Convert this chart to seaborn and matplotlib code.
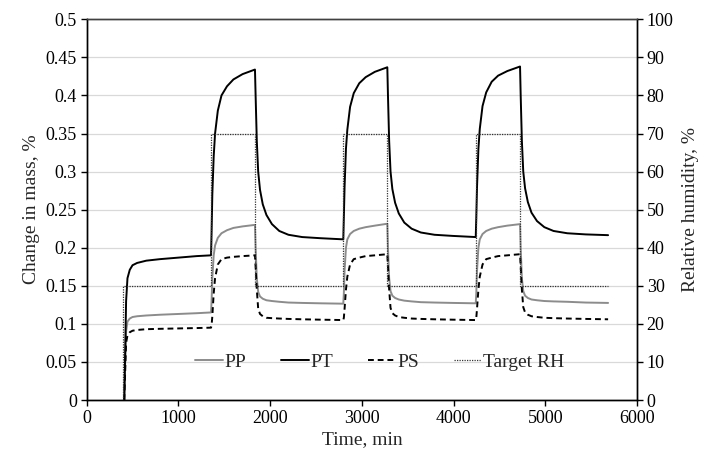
"""
Mass change of PP / PT / PS samples under stepped target RH (DVS cycles)
"""
import matplotlib
matplotlib.use("Agg")
import matplotlib.pyplot as plt
import seaborn as sns
import pandas as pd

# time points (min) shared by the three mass curves
time = [
    410, 418, 430, 445, 470, 500, 550, 650, 800, 1000, 1200, 1356,
    1362, 1370, 1385, 1400, 1430, 1470, 1530, 1600, 1700, 1835,
    1842, 1855, 1870, 1890, 1920, 1960, 2020, 2100, 2200, 2350, 2550, 2798,
    2804, 2812, 2827, 2842, 2872, 2912, 2972, 3042, 3142, 3278,
    3285, 3298, 3313, 3333, 3363, 3403, 3463, 3543, 3643, 3793, 3993, 4242,
    4248, 4256, 4271, 4286, 4316, 4356, 4416, 4486, 4586, 4725,
    4732, 4745, 4760, 4780, 4810, 4850, 4910, 4990, 5090, 5240, 5440, 5685,
]
pt = [
    0.0, 0.05, 0.13, 0.16, 0.171, 0.177, 0.180, 0.183, 0.185, 0.187, 0.189, 0.190,
    0.22, 0.27, 0.32, 0.35, 0.38, 0.40, 0.412, 0.421, 0.428, 0.434,
    0.40, 0.34, 0.30, 0.276, 0.257, 0.243, 0.231, 0.222, 0.217, 0.214, 0.2125, 0.211,
    0.24, 0.28, 0.33, 0.355, 0.385, 0.403, 0.416, 0.424, 0.431, 0.437,
    0.40, 0.34, 0.30, 0.277, 0.259, 0.245, 0.233, 0.225, 0.220, 0.217, 0.2155, 0.214,
    0.24, 0.28, 0.33, 0.356, 0.386, 0.404, 0.418, 0.426, 0.432, 0.438,
    0.40, 0.34, 0.30, 0.278, 0.260, 0.246, 0.235, 0.227, 0.222, 0.219, 0.2175, 0.2165,
]
pp = [
    0.0, 0.04, 0.09, 0.103, 0.107, 0.109, 0.110, 0.111, 0.112, 0.113, 0.114, 0.115,
    0.13, 0.16, 0.19, 0.203, 0.213, 0.219, 0.223, 0.226, 0.228, 0.230,
    0.20, 0.16, 0.142, 0.136, 0.133, 0.131, 0.130, 0.129, 0.128, 0.1275, 0.127, 0.1265,
    0.14, 0.17, 0.20, 0.211, 0.218, 0.222, 0.225, 0.227, 0.229, 0.2315,
    0.20, 0.16, 0.143, 0.137, 0.134, 0.132, 0.1305, 0.1295, 0.1285, 0.128, 0.1275, 0.127,
    0.14, 0.17, 0.20, 0.211, 0.218, 0.222, 0.225, 0.227, 0.229, 0.231,
    0.20, 0.16, 0.143, 0.137, 0.134, 0.132, 0.131, 0.130, 0.1295, 0.129, 0.128, 0.1275,
]
ps = [
    0.0, 0.03, 0.075, 0.085, 0.089, 0.091, 0.092, 0.093, 0.0935, 0.094, 0.0945, 0.095,
    0.098, 0.11, 0.14, 0.16, 0.178, 0.185, 0.187, 0.188, 0.189, 0.190,
    0.175, 0.145, 0.12, 0.113, 0.110, 0.108, 0.1075, 0.107, 0.1065, 0.106, 0.1055, 0.105,
    0.108, 0.12, 0.145, 0.162, 0.178, 0.185, 0.187, 0.189, 0.190, 0.1915,
    0.175, 0.145, 0.121, 0.114, 0.111, 0.109, 0.108, 0.107, 0.1065, 0.106, 0.1055, 0.105,
    0.108, 0.12, 0.145, 0.162, 0.178, 0.185, 0.187, 0.189, 0.190, 0.1915,
    0.175, 0.145, 0.122, 0.115, 0.112, 0.110, 0.109, 0.108, 0.1075, 0.107, 0.1065, 0.106,
]

# target relative humidity steps
rh_time = [395, 395, 1356, 1356, 1835, 1835, 2798, 2798, 3278, 3278,
           4242, 4242, 4725, 4725, 5685]
rh = [0, 30, 30, 70, 70, 30, 30, 70, 70, 30, 30, 70, 70, 30, 30]

mass_df = pd.DataFrame({"time": time, "PP": pp, "PT": pt, "PS": ps})
rh_df = pd.DataFrame({"time": rh_time, "rh": rh})

sns.set_theme(style="ticks")
plt.rcParams["font.family"] = ["Liberation Serif", "DejaVu Serif"]

fig = plt.figure(figsize=(7.08, 4.57), dpi=100)
ax = fig.add_axes([0.1224, 0.1247, 0.7773, 0.8331])
ax2 = ax.twinx()

sns.lineplot(data=mass_df, x="time", y="PP", ax=ax, color="#8c8c8c", lw=1.4,
             estimator=None, sort=False, label="PP")
sns.lineplot(data=mass_df, x="time", y="PT", ax=ax, color="black", lw=1.4,
             estimator=None, sort=False, label="PT")
sns.lineplot(data=mass_df, x="time", y="PS", ax=ax, color="black", lw=1.4,
             estimator=None, sort=False, label="PS", linestyle=(0, (3, 2)))
sns.lineplot(data=rh_df, x="time", y="rh", ax=ax2, color="#333333", lw=0.9,
             estimator=None, sort=False, label="Target RH", linestyle=(0, (1, 1)))

ax.set_xlim(0, 6000)
ax.set_ylim(0, 0.5)
ax2.set_ylim(0, 100)
ax.set_xticks(range(0, 6001, 1000))
ax.set_yticks([i * 0.05 for i in range(11)])
ax.set_yticklabels(["0", "0.05", "0.1", "0.15", "0.2", "0.25", "0.3", "0.35",
                    "0.4", "0.45", "0.5"])
ax2.set_yticks(range(0, 101, 10))

ax.yaxis.grid(True, color="#d9d9d9", lw=0.9)
ax.set_axisbelow(True)

ax.set_xlabel("Time, min", fontsize=14, labelpad=3)
ax.set_ylabel("Change in mass, %", fontsize=14, labelpad=4)
ax2.set_ylabel("Relative humidity, %", fontsize=14, labelpad=6)

for a in (ax, ax2):
    a.tick_params(axis="both", direction="out", length=4, width=1,
                  labelsize=13, colors="black", pad=3)
    for side in ("left", "right", "bottom"):
        a.spines[side].set_color("black")
        a.spines[side].set_linewidth(1)
    a.spines["top"].set_color("#404040")
    a.spines["top"].set_linewidth(1)
    a.spines["top"].set_visible(True)
    a.spines["right"].set_visible(True)

h1, l1 = ax.get_legend_handles_labels()
h2, l2 = ax2.get_legend_handles_labels()
ax2.get_legend().remove()
ax.get_legend().remove()
ax.legend(h1 + h2, l1 + l2, loc="center", bbox_to_anchor=(0.533, 0.10),
          ncol=4, frameon=False, fontsize=14, handlelength=1.4,
          handletextpad=0.1, columnspacing=1.8)

fig.savefig("out.png", dpi=100)
